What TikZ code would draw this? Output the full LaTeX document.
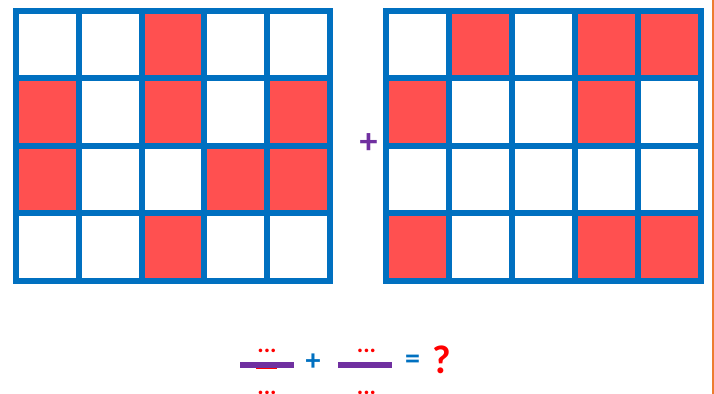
\documentclass[tikz,border=0pt]{standalone}
\usepackage{fontspec}
\setmainfont{Carlito}
\definecolor{GridClr}{HTML}{0070C0}
\definecolor{CellClr}{HTML}{FF5050}
\definecolor{BarClr}{HTML}{7030A0}
\definecolor{EdgeClr}{HTML}{ED7D31}

\begin{document}
\begin{tikzpicture}[x=0.5pt,y=-0.5pt,
  cell/.style={fill=CellClr},
  grid line/.style={line width=3pt,color=GridClr,line cap=rect},
  dots/.style={text=red,font=\bfseries\fontsize{12}{12}\selectfont,inner sep=0pt},
  fracbar/.style={fill=BarClr,minimum width=27pt,minimum height=3pt,inner sep=0pt},
  sign/.style={text=GridClr,font=\bfseries\fontsize{15}{15}\selectfont,inner sep=0pt}]

\useasboundingbox (0,0) rectangle (714,394);

\foreach \c/\r in {2/0,0/1,2/1,4/1,0/2,3/2,4/2,2/3}
  \fill[cell] ({16+62.8*\c},{11+67.5*\r}) rectangle ++(62.8,67.5);
\foreach \c/\r in {1/0,3/0,4/0,0/1,3/1,0/3,3/3,4/3}
  \fill[cell] ({386+63*\c},{11+67.5*\r}) rectangle ++(63,67.5);

\foreach \i in {0,...,5} {
  \draw[grid line] ({16+62.8*\i},11) -- ({16+62.8*\i},281);
  \draw[grid line] ({386+63*\i},11) -- ({386+63*\i},281);
}
\foreach \j in {0,...,4} {
  \draw[grid line] (16,{11+67.5*\j}) -- (330,{11+67.5*\j});
  \draw[grid line] (386,{11+67.5*\j}) -- (701,{11+67.5*\j});
}

\node[sign,text=BarClr,font=\bfseries\fontsize{18}{18}\selectfont] (plus) at (368.5,144) {+};

\draw[red,line width=1pt] (256,368) -- (277,368);
\node[fracbar] (bar1) at (267,365) {};
\node[dots] (num1) at (267,351) {...};
\node[dots] (den1) at (267,393) {...};
\node[sign] (plus2) at (313,362) {+};
\node[fracbar] (bar2) at (365,365) {};
\node[dots] (num2) at (366.5,351) {...};
\node[dots] (den2) at (366.5,393) {...};
\node[sign] (eq) at (412.5,362) {=};
\node[sign,text=red,font=\bfseries\fontsize{20}{20}\selectfont] (ask) at (442,360) {?};

\draw[EdgeClr,line width=0.6pt] (713,0) -- (713,394);

\end{tikzpicture}
\end{document}
